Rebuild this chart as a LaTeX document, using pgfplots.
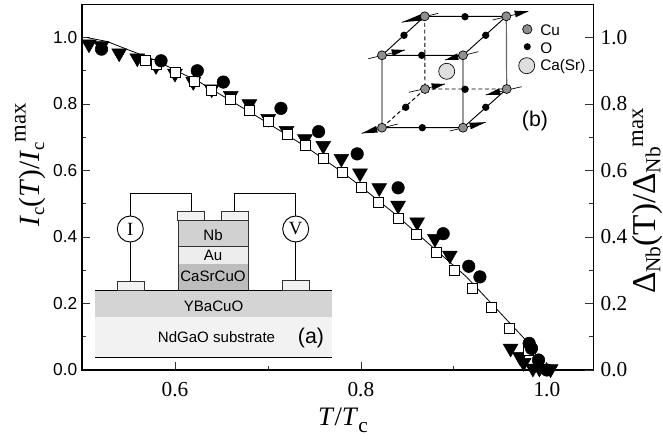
\documentclass[border=0pt]{standalone}
\usepackage{fontspec}
\usepackage{pgfplots}
\usetikzlibrary{calc}
\pgfplotsset{compat=1.18}
\setmainfont{Liberation Serif}
\newfontfamily\arial{Liberation Sans}
\newcommand{\fs}[1]{\fontsize{#1}{#1}\selectfont}
\definecolor{cuc}{HTML}{8E8F91}
\begin{document}
\begin{tikzpicture}
\path[use as bounding box] (0,0) rectangle (497.25pt,329.25pt);
\begin{axis}[at={(61.5pt,51.75pt)},anchor=south west,scale only axis,width=383.5pt,height=274.3pt,
  xmin=0.5,xmax=1.05,ymin=0,ymax=1.1,clip=false,
  xtick={0.6,0.8,1.0},ytick={0,0.2,0.4,0.6,0.8,1.0},
  minor x tick num=1,minor y tick num=1,
  xtick pos=bottom,ytick pos=left,tick align=inside,
  major tick length=6pt,minor tick length=3pt,
  axis line style={line width=0.9pt},
  tick style={black!80,line width=0.6pt},
  /pgf/number format/assume math mode=true,
  /pgf/number format/fixed,/pgf/number format/fixed zerofill,/pgf/number format/precision=1,
  x tick label style={font=\fs{16}},
  y tick label style={font=\arial\fs{13}},
  xticklabel shift=6pt]
\addplot[only marks,mark=triangle*,mark size=6.4pt,mark options={rotate=180,fill=black,draw=black}] coordinates {
(.5075,.980)(.521,.975)(.540,.953)(.5595,.938)(.5796,.915)(.600,.892)(.6197,.867)(.6395,.845)(.660,.825)(.680,.800)(.7003,.756)(.720,.720)(.7398,.695)(.7595,.675)(.779,.636)(.799,.592)(.8197,.548)(.840,.495)(.8605,.445)(.8796,.395)(.8957,.345)(.961,.065)(.971,.04)(.975,.022)(.985,.005)(.992,.005)(1.004,.003)};
\addplot[only marks,mark=square*,mark size=3.75pt,mark options={fill=white,draw=black,line width=0.6pt}] coordinates {
(.5677,.932)(.580,.920)(.6,.894)(.6204,.868)(.6395,.842)(.660,.813)(.680,.781)(.7003,.749)(.7204,.710)(.7398,.675)(.760,.635)(.780,.593)(.800,.550)(.819,.505)(.840,.456)(.860,.408)(.881,.354)(.901,.300)(.920,.245)(.940,.187)(.960,.125)(.980,.060)};
\addplot[black,line width=0.6pt] coordinates {
(.505,1.0)(.527,.988)(.548,.965)(.5785,.932)(.627,.865)(.684,.770)(.7416,.67)(.7774,.60)(.7917,.57)(.835,.473)(.9136,.28)(.9756,.095)(1.0,0)};
\addplot[only marks,mark=*,mark size=4.7pt,mark options={fill=black,draw=black}] coordinates {
(.521,.965)(.585,.93)(.624,.90)(.652,.866)(.714,.787)(.7545,.717)(.796,.65)(.840,.548)(.8885,.41)(.916,.312)(.928,.28)(.981,.08)(.9835,.065)(.991,.03)(1.0,.0)};
\end{axis}
\begin{axis}[at={(61.5pt,51.75pt)},anchor=south west,scale only axis,width=383.5pt,height=274.3pt,
  xmin=0.5,xmax=1.05,ymin=0,ymax=1.1,
  axis x line=none,axis y line*=right,
  ytick={0,0.2,0.4,0.6,0.8,1.0},minor y tick num=1,tick align=inside,
  major tick length=6pt,minor tick length=3pt,
  axis line style={line width=0.9pt,-},
  tick style={black!80,line width=0.6pt},
  /pgf/number format/assume math mode=true,
  /pgf/number format/fixed,/pgf/number format/fixed zerofill,/pgf/number format/precision=1,
  y tick label style={font=\fs{16}},yticklabel shift=2pt]
\addplot[draw=none] coordinates {(.6,.5)};
\end{axis}
\begin{scope}[x=0.75pt,y=-0.75pt,shift={(0,-439)}]
% axis titles
\node[rotate=90,anchor=base,inner sep=0,font=\fs{22}] at (39.5,165) {\textit{I}\raisebox{-3.5pt}{\fs{14}c}(\textit{T})/\textit{I}\raisebox{-3.5pt}{\fs{14}c}\raisebox{10.5pt}{\fs{17}max}};
\node[rotate=90,anchor=base,inner sep=0,font=\fs{25}] at (655,201) {Δ\raisebox{-4pt}{\fs{16}Nb}(T)/Δ\raisebox{-4pt}{\fs{16}Nb}\raisebox{9pt}{\fs{17}max}};
\node[anchor=base,inner sep=0,font=\fs{20}] at (343,425.7) {\textit{T}/\textit{T}\raisebox{-5pt}{\fs{16}c}};
% inset (a)
\fill[black!5] (95,316.7) rectangle (331.7,357.3);
\fill[black!17] (95,290) rectangle (331.7,316.7);
\draw[line width=0.7pt] (95,357.3)--(331.7,357.3);
\draw[line width=0.7pt] (95,290)--(331.7,290);
\fill[black!26] (178,264) rectangle (248.7,290);
\fill[black!7] (178,246.3) rectangle (248.7,264);
\fill[black!18] (178,220) rectangle (248.7,246.3);
\draw[line width=0.6pt,black!80] (178,290)--(178,220)--(248.7,220)--(248.7,290);
\draw[line width=0.6pt,black!80] (178,246.3)--(248.7,246.3);
\draw[line width=0.6pt,black!80,fill=black!5] (177.7,220) rectangle (204.3,211.3);
\draw[line width=0.6pt,black!80,fill=black!5] (221.7,220) rectangle (248.3,211.3);
\draw[line width=0.6pt,black!80,fill=black!5] (117,290) rectangle (144.3,281);
\draw[line width=0.6pt,black!80,fill=black!5] (282.3,290) rectangle (309.3,280.3);
\draw[line width=0.7pt] (130.5,281)--(130.5,193.7)--(191.5,193.7)--(191.5,211.3);
\draw[line width=0.7pt] (295.7,280.3)--(295.7,193.3)--(234.5,193.3)--(234.5,211.3);
\draw[line width=0.7pt,fill=white] (130.3,229) circle[radius=13];
\draw[line width=0.7pt,fill=white] (295.7,229) circle[radius=13];
\node[font=\fs{14}] at (130.3,229) {I};
\node[font=\fs{14}] at (295.7,229) {V};
\begin{scope}[font=\arial\fs{11.3}]
\node at (213,235) {Nb};
\node at (213,255.5) {Au};
\node at (213,276.5) {CaSrCuO};
\node at (213.5,306) {YBaCuO};
\node at (216.5,337) {NdGaO substrate};
\end{scope}
\node[font=\arial\fs{16}] at (311,337.5) {(a)};
% inset (b)
\begin{scope}[line width=0.7pt]
\draw[black!60,line width=0.9pt] (382,55.3)--(382,127.7) (463,55.3)--(463,127.7) (506.3,16.3)--(506.7,89);
\draw (424.7,16.3)--(506.3,16.3) (382,55.3)--(463,55.3) (382,127.7)--(463,127.7)
 (424.7,16.3)--(382,55.3) (506.3,16.3)--(463,55.3) (506.7,89)--(463,127.7);
\draw[densely dashed] (424.7,16.3)--(425,89) (425,89)--(506.7,89) (425,89)--(382,127.7);
\foreach \x/\y in {465/16.7,404/35.3,485.7/35.3,421.7/55.3,465/89.3,405.7/107.3,485.7/107.3,422.3/127.7}
  \fill (\x,\y) circle[radius=3.7];
\foreach \ax/\ay/\bx/\by/\tx/\ty/\mx/\my in {
 401.7/22.3/438.3/13.3/401.7/22.3/423/17,
 492.7/20/528.3/11.3/528.3/11.3/515/14,
 368.3/58.7/405/50/405/50/392/52.7,
 445/60/478.3/51.7/445/60/458/56.7,
 409/92.3/445/84/445/84/432/86.7,
 485.7/95/521.7/86.7/485.7/95/500/91.7,
 361.7/133.3/397.7/124/361.7/133.3/377/129.3,
 450/131/485.7/122.3/485.7/122.3/470/126}{
  \draw[line width=0.5pt] (\ax,\ay)--(\bx,\by);
  \fill (\tx,\ty)--($(\mx,\my)+(0.8,3.3)$)--($(\mx,\my)+(-0.8,-3.3)$)--cycle;
}
\foreach \x/\y in {424.7/16.3,506.3/16.3,382/55.3,463/55.3,425/89,506.7/89,382/127.7,463/127.7}
  \draw[fill=cuc,line width=0.5pt] (\x,\y) circle[radius=4.5];
\draw[fill=black!13,line width=0.5pt] (446.7,71.3) circle[radius=8];
\draw[fill=cuc,line width=0.5pt] (527.3,29.3) circle[radius=4.7];
\fill (527.3,46.7) circle[radius=3.5];
\draw[fill=black!13,line width=0.5pt] (526.7,65.7) circle[radius=8];
\end{scope}
\begin{scope}[font=\arial\fs{11.5}]
\node[anchor=west,inner sep=0] at (540,30) {Cu};
\node[anchor=west,inner sep=0] at (540,48) {O};
\node[anchor=west,inner sep=0] at (540,67) {Ca(Sr)};
\end{scope}
\node[font=\arial\fs{16}] at (535,120.7) {(b)};
\end{scope}
\end{tikzpicture}
\end{document}
